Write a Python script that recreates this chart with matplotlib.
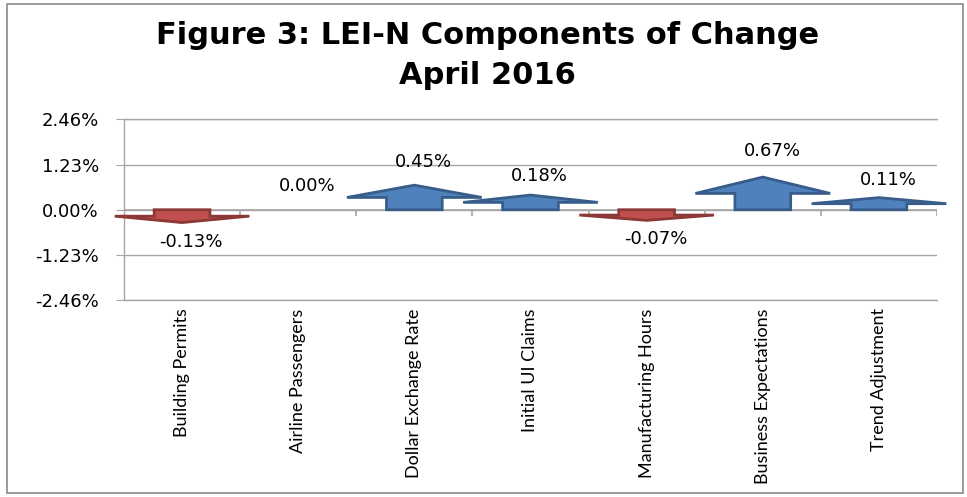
import matplotlib.pyplot as plt
from matplotlib.patches import Polygon, Rectangle

categories = ['Building Permits', 'Airline Passengers', 'Dollar Exchange Rate',
              'Initial UI Claims', 'Manufacturing Hours', 'Business Expectations',
              'Trend Adjustment']
changes = [-0.13, 0.00, 0.45, 0.18, -0.07, 0.67, 0.11]
yticks = [-2.46, -1.23, 0.00, 1.23, 2.46]

title1 = 'Figure 3: LEI-N Components of Change'
title2 = 'April 2016'

grey = '#a6a6a6'
blue, blue_edge = '#4f81bd', '#385d8a'
red, red_edge = '#c0504d', '#8c3836'

fig = plt.figure(figsize=(9.67, 4.97), dpi=100)
fig.patches.append(Rectangle((0.0072, 0.008), 0.9887, 0.984, transform=fig.transFigure,
                             fill=False, ec='#8a8a8a', lw=1.2))

ax = fig.add_axes([0.1282, 0.3964, 0.9690 - 0.1282, 0.7596 - 0.3964])
ax.set_xlim(-0.5, len(categories) - 0.5)
ax.set_ylim(yticks[0], yticks[-1])

# grid + axes styling, excel-ish
ax.set_yticks(yticks)
ax.set_yticklabels(['%.2f%%' % t for t in yticks], fontsize=13, family='DejaVu Sans')
ax.yaxis.grid(True, color=grey, lw=1)
ax.set_axisbelow(True)
for side in ['left', 'top', 'bottom']:
    ax.spines[side].set_color(grey)
    ax.spines[side].set_linewidth(1)
ax.spines['right'].set_visible(False)
ax.tick_params(axis='y', length=6, color=grey, pad=12)

ax.set_xticks(range(len(categories)))
ax.set_xticklabels(categories, rotation=90, fontsize=13, family='Lato')
ax.tick_params(axis='x', length=0, pad=6)

# zero axis line with category dividers
ax.axhline(0, color=grey, lw=1.2, zorder=2)
ax.vlines([i - 0.5 for i in range(len(categories) + 1)], 0, -0.17, color=grey, lw=1.2, zorder=2)

# arrows
tip_extra = 0.22
shaft_w = 0.48
head_w = 1.16
for i, v in enumerate(changes):
    if v != 0:
        s = 1 if v > 0 else -1
        tip = v + s * tip_extra
        base = tip * 0.5
        pts = [(i - shaft_w / 2, 0), (i - shaft_w / 2, base), (i - head_w / 2, base),
               (i, tip), (i + head_w / 2, base), (i + shaft_w / 2, base), (i + shaft_w / 2, 0)]
        fc, ec = (blue, blue_edge) if v > 0 else (red, red_edge)
        ax.add_patch(Polygon(pts, closed=True, fc=fc, ec=ec, lw=2, clip_on=False, zorder=3))
    ly = v * 1.4 + (0.66 if v >= 0 else -0.7)
    ax.text(i + 0.08, ly, '%.2f%%' % v, ha='center', va='center', fontsize=13,
            family='DejaVu Sans', zorder=4)

fig.text(0.504, 1 - 44 / 497, title1, ha='center', va='baseline', fontsize=22,
         fontweight='bold', family='DejaVu Sans')
fig.text(0.504, 1 - 84 / 497, title2, ha='center', va='baseline', fontsize=22,
         fontweight='bold', family='DejaVu Sans')

plt.savefig('out.png', dpi=100)
